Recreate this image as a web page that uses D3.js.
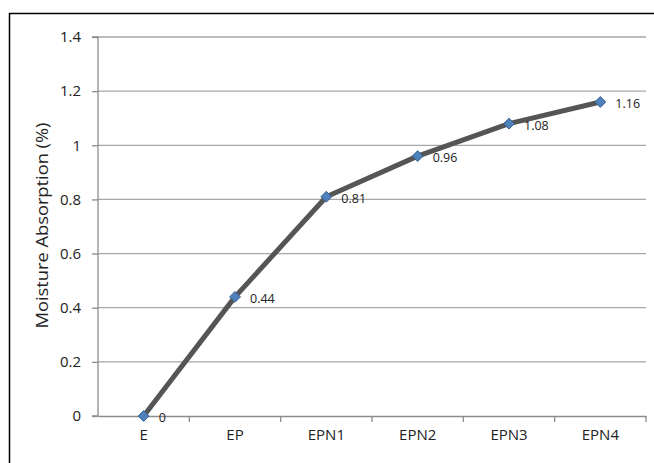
<!DOCTYPE html>
<html>
<head>
<meta charset="utf-8">
<script src="https://cdn.jsdelivr.net/npm/d3@7"></script>
<style>
  body { margin: 0; background: #fff; }
  text { font-family: "Open Sans", "Noto Sans", sans-serif; fill: #222; }
</style>
</head>
<body>
<div class="canvas"></div>
<script>
const samples = ['E', 'EP', 'EPN1', 'EPN2', 'EPN3', 'EPN4'];
const absorption = [0, 0.44, 0.81, 0.96, 1.08, 1.16];
const yTicks = [0, 0.2, 0.4, 0.6, 0.8, 1, 1.2, 1.4];

const dims = { width: 654, height: 463 };
const plot = { left: 98, right: 646, top: 37, bottom: 416 };

const svg = d3
  .select('.canvas')
  .append('svg')
  .attr('width', dims.width)
  .attr('height', dims.height);

// OUTER FRAME
svg.append('rect')
  .attr('x', 9.5)
  .attr('y', 13.5)
  .attr('width', 660)
  .attr('height', 470)
  .attr('fill', 'none')
  .attr('stroke', '#000')
  .attr('stroke-width', 1.5);

const x = d3.scaleBand()
  .domain(samples)
  .range([plot.left, plot.right]);

const y = d3.scaleLinear()
  .domain([0, 1.4])
  .range([plot.bottom, plot.top]);

// GRIDLINES
svg.append('g')
  .selectAll('line')
  .data(yTicks.slice(1))
  .join('line')
  .attr('x1', plot.left)
  .attr('x2', plot.right)
  .attr('y1', (d) => y(d))
  .attr('y2', (d) => y(d))
  .attr('stroke', '#a6a6a6')
  .attr('stroke-width', 1.3);

// Y AXIS
const yAxis = svg.append('g')
  .attr('transform', `translate(${plot.left}, 0)`)
  .call(d3.axisLeft(y).tickValues(yTicks).tickSize(6).tickPadding(11).tickFormat((d) => d3.format('')(+d.toFixed(1))));
yAxis.selectAll('path, line').attr('stroke', '#8c8c8c').attr('stroke-width', 1.3);
yAxis.select('.domain').attr('d', `M-6,${plot.bottom}H0V${plot.top}H-6`);
yAxis.selectAll('text').style('font-size', '15px').attr('fill', '#222');

// X AXIS
const xAxis = svg.append('g')
  .attr('transform', `translate(0, ${plot.bottom})`)
  .call(d3.axisBottom(x).tickSize(0).tickPadding(13));
xAxis.select('.domain').attr('stroke', '#8c8c8c').attr('stroke-width', 1.3);
xAxis.selectAll('text').style('font-size', '15px').attr('fill', '#222');

// X TICK MARKS AT CATEGORY EDGES
svg.append('g')
  .selectAll('line')
  .data(samples)
  .join('line')
  .attr('x1', (d) => x(d) + x.bandwidth())
  .attr('x2', (d) => x(d) + x.bandwidth())
  .attr('y1', plot.bottom)
  .attr('y2', plot.bottom + 6)
  .attr('stroke', '#8c8c8c')
  .attr('stroke-width', 1.3);

// Y TITLE
svg.append('text')
  .attr('transform', `translate(48, ${(plot.top + plot.bottom) / 2 - 1}) rotate(-90)`)
  .attr('text-anchor', 'middle')
  .attr('textLength', 206)
  .attr('lengthAdjust', 'spacingAndGlyphs')
  .style('font-size', '17px')
  .text('Moisture Absorption (%)');

const cx = (i) => x(samples[i]) + x.bandwidth() / 2;

// LINE
const line = d3.line()
  .x((d, i) => cx(i))
  .y((d) => y(d));

svg.append('path')
  .datum(absorption)
  .attr('d', line)
  .attr('fill', 'none')
  .attr('stroke', '#555555')
  .attr('stroke-width', 5)
  .attr('stroke-linejoin', 'round');

// MARKERS
svg.append('g')
  .selectAll('path')
  .data(absorption)
  .join('path')
  .attr('d', d3.symbol(d3.symbolDiamond2, 75))
  .attr('transform', (d, i) => `translate(${cx(i)}, ${y(d)})`)
  .attr('fill', '#4f81bd')
  .attr('stroke', '#3a5f8c')
  .attr('stroke-width', 1);

// DATA LABELS
svg.append('g')
  .selectAll('text')
  .data(absorption)
  .join('text')
  .attr('x', (d, i) => cx(i) + 15)
  .attr('y', (d) => y(d) + 6)
  .style('font-size', '12.5px')
  .text((d) => d);
</script>
</body>
</html>
